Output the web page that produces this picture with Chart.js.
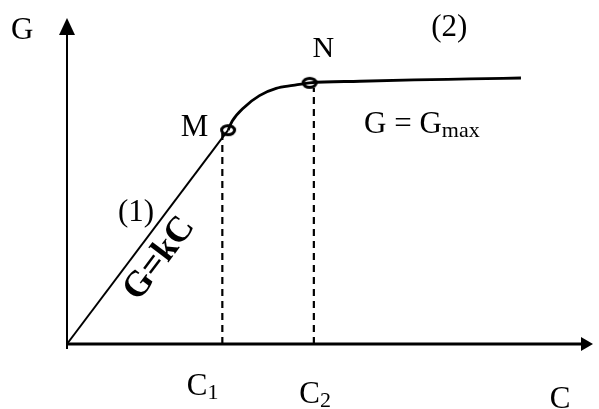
<!DOCTYPE html>
<html>
<head>
<meta charset="utf-8">
<script src="https://cdn.jsdelivr.net/npm/chart.js@4/dist/chart.umd.min.js"></script>
<style>
html,body{margin:0;padding:0;background:#fff;}
#wrap{width:599px;height:409px;position:relative;}
</style>
</head>
<body>
<div id="wrap"><canvas id="c" width="599" height="409"></canvas></div>
<script>
// ---- data ----
const slopeX = [0, 3.08];
const slopeY = [0, 6.56];
const curveX = [3.08, 3.16, 3.38, 3.68, 4.00, 4.32, 4.64, 5.60, 6.64, 7.70, 8.68];
const curveY = [6.56, 6.84, 7.25, 7.62, 7.84, 7.93, 8.01, 8.06, 8.10, 8.13, 8.16];
const markerX = [3.08, 4.64];
const markerY = [6.56, 8.01];
const markerNames = ['M', 'N'];
const dropX = [2.97, 4.72];
const dropTopY = [6.47, 7.85];
const dropNames = [['C', '1'], ['C', '2']];
const axisNames = ['C', 'G'];
const regionNames = ['(1)', '(2)'];
const formulas = ['G=kC', ['G = G', 'max']];

const pts = (xs, ys) => xs.map((x, i) => ({x: x, y: ys[i]}));

// elliptical open marker
const ring = document.createElement('canvas');
ring.width = 20; ring.height = 16;
(function () {
  const g = ring.getContext('2d');
  g.fillStyle = '#fff'; g.strokeStyle = '#000'; g.lineWidth = 3;
  g.beginPath(); g.ellipse(10, 8, 6.5, 4.6, 0, 0, Math.PI * 2); g.fill(); g.stroke();
})();

const datasets = [
  {data: pts(slopeX, slopeY), borderColor: '#000', borderWidth: 2, pointRadius: 0, tension: 0, showLine: true, clip: false},
  {data: pts(curveX, curveY), borderColor: '#000', borderWidth: 2.8, pointRadius: 0, cubicInterpolationMode: 'monotone', showLine: true, clip: false}
];
dropX.forEach((x, i) => {
  datasets.push({data: [{x: x, y: 0}, {x: x, y: dropTopY[i]}], borderColor: '#000', borderWidth: 2.2, borderDash: [7, 5], pointRadius: 0, showLine: true, clip: false});
});
datasets.push({data: pts(markerX, markerY), showLine: false, pointStyle: ring, pointRadius: 8, clip: false});

const SERIF = '"Liberation Serif", "Times New Roman", serif';

const decor = {
  id: 'decor',
  beforeDatasetsDraw(chart) {
    const ctx = chart.ctx, xs = chart.scales.x, ys = chart.scales.y;
    const x0 = xs.getPixelForValue(0), y0 = ys.getPixelForValue(0);
    const xEnd = xs.getPixelForValue(10), yEnd = ys.getPixelForValue(10);
    ctx.save();
    ctx.strokeStyle = '#000'; ctx.fillStyle = '#000';
    // x axis
    ctx.lineWidth = 3;
    ctx.beginPath(); ctx.moveTo(x0, y0); ctx.lineTo(xEnd - 6, y0); ctx.stroke();
    ctx.beginPath(); ctx.moveTo(xEnd + 3, y0); ctx.lineTo(xEnd - 9, y0 - 7); ctx.lineTo(xEnd - 9, y0 + 7); ctx.closePath(); ctx.fill();
    // y axis
    ctx.lineWidth = 2;
    ctx.beginPath(); ctx.moveTo(x0, y0 + 5); ctx.lineTo(x0, yEnd + 10); ctx.stroke();
    ctx.beginPath(); ctx.moveTo(x0, yEnd); ctx.lineTo(x0 - 8, yEnd + 17); ctx.lineTo(x0 + 8, yEnd + 17); ctx.closePath(); ctx.fill();
    ctx.restore();
  },
  afterDatasetsDraw(chart) {
    const ctx = chart.ctx, xs = chart.scales.x, ys = chart.scales.y;
    const P = (x, y) => [xs.getPixelForValue(x), ys.getPixelForValue(y)];
    ctx.save();
    ctx.fillStyle = '#000';
    ctx.textBaseline = 'alphabetic';
    const txt = (s, x, y, size, align, bold) => {
      const p = P(x, y);
      ctx.font = (bold ? 'bold ' : '') + size + 'px ' + SERIF;
      ctx.textAlign = align;
      ctx.fillText(s, p[0], p[1]);
      return p;
    };
    const sub = (main, sb, x, y, size, subSize, drop) => {
      const p = P(x, y);
      ctx.font = size + 'px ' + SERIF; ctx.textAlign = 'left';
      ctx.fillText(main, p[0], p[1]);
      const w = ctx.measureText(main).width;
      ctx.font = subSize + 'px ' + SERIF;
      ctx.fillText(sb, p[0] + w, p[1] + drop);
    };
    // axis names
    txt(axisNames[1], -1.07, 9.36, 31, 'left');
    sub(axisNames[0], '', 9.23, -1.96, 31, 20, 0);
    // markers
    txt(markerNames[0], 2.44, 6.38, 31, 'center');
    txt(markerNames[1], 4.90, 8.80, 30, 'center');
    // regions
    txt(regionNames[0], 1.32, 3.77, 31, 'center');
    txt(regionNames[1], 7.31, 9.45, 31, 'center');
    // drop labels
    sub(dropNames[0][0], dropNames[0][1], 2.29, -1.56, 31, 22, 4);
    sub(dropNames[1][0], dropNames[1][1], 4.44, -1.81, 31, 22, 4);
    // Gmax formula
    sub(formulas[1][0], formulas[1][1], 5.68, 6.47, 31, 22, 4);
    // rotated G=kC
    const c = P(1.77, 2.62);
    ctx.translate(c[0], c[1]);
    ctx.rotate(-53 * Math.PI / 180);
    ctx.font = 'bold 36px ' + SERIF;
    ctx.textAlign = 'center'; ctx.textBaseline = 'middle';
    ctx.fillText(formulas[0], 0, 0);
    ctx.restore();
  }
};

new Chart(document.getElementById('c'), {
  type: 'scatter',
  data: {datasets: datasets},
  options: {
    responsive: false,
    animation: false,
    events: [],
    layout: {padding: {left: 67, right: 0, top: 18, bottom: 65}},
    plugins: {legend: {display: false}, tooltip: {enabled: false}},
    scales: {
      x: {type: 'linear', min: 0, max: 10, display: false},
      y: {type: 'linear', min: 0, max: 10, display: false}
    }
  },
  plugins: [decor]
});
</script>
</body>
</html>
